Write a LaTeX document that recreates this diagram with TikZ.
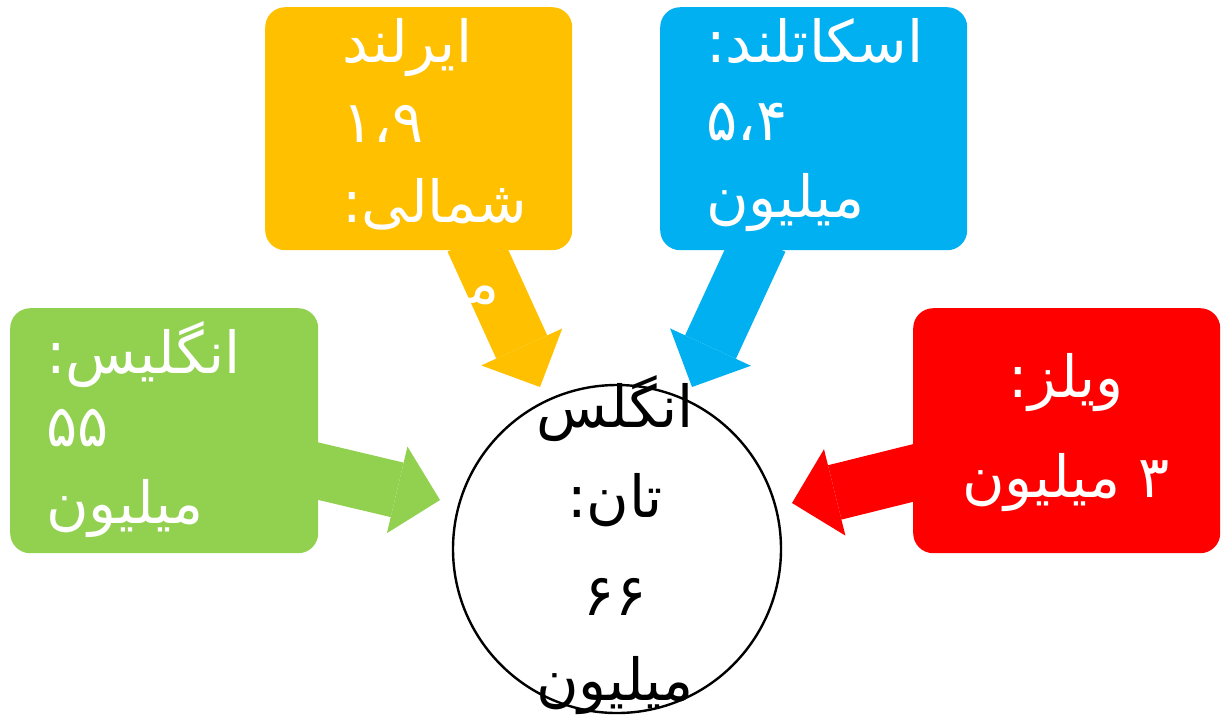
\documentclass[tikz,border=0pt]{standalone}
\usepackage{fontspec}
\usetikzlibrary{arrows.meta}
\TeXXeTstate=1
\newfontfamily\fafont[Script=Arabic]{DejaVu Sans}
\definecolor{cyellow}{HTML}{FFC000}
\definecolor{cblue}{HTML}{00B0F0}
\definecolor{cgreen}{HTML}{92D050}
\definecolor{cred}{HTML}{FF0000}
\newcommand{\fatext}[1]{\beginR #1\endR}
\begin{document}
\begin{tikzpicture}[x=1pt,y=-1pt,
  box/.style={rectangle, draw=none, rounded corners=20pt, inner sep=0pt, anchor=north west},
  lbl/.style={inner sep=0pt, font=\fafont\fontsize{58}{64}\selectfont},
  wlbl/.style={lbl, text=white, anchor=base west},
  blockarrow/.style={draw=#1, line width=56pt, line cap=butt,
     -{Triangle[length=44pt,width=89pt,line width=0pt,fill=#1]}},
]
\useasboundingbox (0,0) rectangle (1222,721);
% arrow end points
\coordinate (ya1) at (473,240);
\coordinate (ya2) at (540,387);
\coordinate (ba1) at (760,240);
\coordinate (ba2) at (692,387);
\coordinate (ga1) at (305,468);
\coordinate (ga2) at (440,500);
\coordinate (ra1) at (925,470);
\coordinate (ra2) at (792,503);
% arrows
\draw[blockarrow=cyellow] (ya1) -- (ya2);
\draw[blockarrow=cblue] (ba1) -- (ba2);
\draw[blockarrow=cgreen] (ga1) -- (ga2);
\draw[blockarrow=cred] (ra1) -- (ra2);
% boxes
\node[box, fill=cyellow, minimum width=307pt, minimum height=243pt] (ybox) at (265,7) {};
\node[box, fill=cblue, minimum width=307pt, minimum height=243pt] (bbox) at (660,7) {};
\node[box, fill=cgreen, minimum width=308pt, minimum height=245pt] (gbox) at (10,308) {};
\node[box, fill=cred, minimum width=307pt, minimum height=245pt] (rbox) at (913,308) {};
% circle
\node[circle, draw=black, line width=2.4pt, fill=white, minimum size=328pt, inner sep=0pt] (total) at (617,549) {};
% yellow texts
\node[wlbl] (y1) at (342,62) {\fatext{ایرلند}};
\node[wlbl] (y2) at (342,142) {\fatext{۱،۹}};
\node[wlbl] (y3) at (342,222) {\fatext{شمالی:}};
\node[wlbl] (y4) at (342,303) {\fatext{میلیون}};
% blue texts
\node[wlbl] (b1) at (706,62) {\fatext{اسکاتلند:}};
\node[wlbl] (b2) at (706,140) {\fatext{۵،۴}};
\node[wlbl] (b3) at (706,217) {\fatext{میلیون}};
% green texts
\node[wlbl] (g1) at (46,373) {\fatext{انگلیس:}};
\node[wlbl] (g2) at (46,446) {\fatext{۵۵}};
\node[wlbl] (g3) at (46,523) {\fatext{میلیون}};
% red texts
\node[lbl, text=white, anchor=base] (r1) at (1066,397) {\fatext{ویلز:}};
\node[lbl, text=white, anchor=base] (r2) at (1066,497) {\fatext{۳ میلیون}};
% circle texts
\node[lbl, anchor=base] (c1) at (615,427) {\fatext{انگلس}};
\node[lbl, anchor=base] (c2) at (615,517) {\fatext{تان:}};
\node[lbl, anchor=base] (c3) at (615,615) {\fatext{۶۶}};
\node[lbl, anchor=base] (c4) at (615,700) {\fatext{میلیون}};
\end{tikzpicture}
\end{document}
